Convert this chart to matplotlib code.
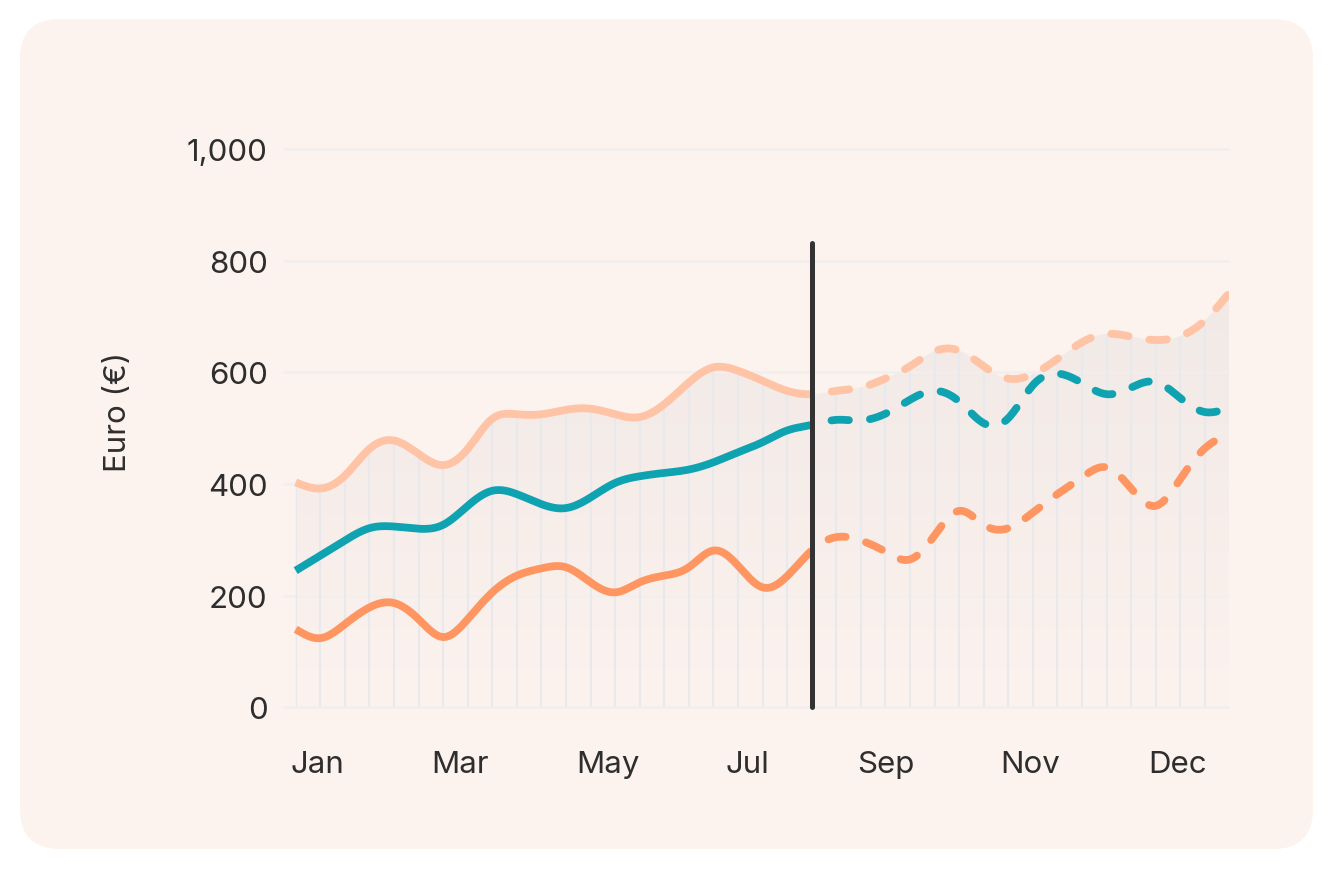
import numpy as np
import matplotlib
matplotlib.use("Agg")
import matplotlib.pyplot as plt
from matplotlib.patches import FancyBboxPatch, Polygon
from matplotlib.colors import LinearSegmentedColormap

plt.rcParams['font.family'] = ['Inter', 'DejaVu Sans']
plt.rcParams['lines.scale_dashes'] = False

# weekly points, actuals up to week 21, forecast after
weeks = list(range(39))
split_week = 21

high = [403, 392, 415, 463, 478, 454, 434, 463, 517, 525,
        525, 533, 535, 525, 520, 543, 582, 609, 603, 585,
        567, 561, 567, 573, 589, 611, 638, 639, 611, 589,
        597, 624, 654, 669, 664, 658, 665, 693, 743]
mid = [245, 272, 299, 321, 324, 320, 327, 361, 388, 382,
       364, 357, 376, 402, 414, 420, 426, 439, 457, 475,
       496, 506, 515, 514, 526, 551, 567, 548, 509, 518,
       577, 598, 581, 561, 573, 583, 554, 529, 537]
low = [140, 124, 149, 179, 187, 158, 126, 158, 206, 236,
       249, 251, 224, 206, 224, 236, 251, 281, 254, 215,
       235, 281, 305, 299, 279, 265, 308, 352, 327, 321,
       349, 382, 412, 430, 392, 361, 409, 464, 490]

month_labels = ["Jan", "Mar", "May", "Jul", "Sep", "Nov", "Dec"]
month_pos = [0.9, 6.7, 12.7, 18.4, 24.0, 29.9, 35.9]
y_ticks = [0, 200, 400, 600, 800, 1000]

card = '#FCF2EE'
text_col = '#2E2E2E'
colors = {'high': '#FFC3A6', 'mid': '#0FA3B1', 'low': '#FF9661'}


def smooth(x, y, n=24):
    # natural cubic spline through the points
    x = np.asarray(x, float)
    y = np.asarray(y, float)
    k = len(x)
    h = np.diff(x)
    A = np.zeros((k, k))
    r = np.zeros(k)
    A[0, 0] = A[-1, -1] = 1
    for i in range(1, k - 1):
        A[i, i-1] = h[i-1]
        A[i, i] = 2 * (h[i-1] + h[i])
        A[i, i+1] = h[i]
        r[i] = 6 * ((y[i+1] - y[i]) / h[i] - (y[i] - y[i-1]) / h[i-1])
    M = np.linalg.solve(A, r)
    xs, ys = [], []
    t = np.linspace(0, 1, n, endpoint=False)
    for i in range(k - 1):
        xx = x[i] + t * h[i]
        a = x[i+1] - xx
        b = xx - x[i]
        yy = (M[i] * a**3 + M[i+1] * b**3) / (6 * h[i]) \
            + (y[i] / h[i] - M[i] * h[i] / 6) * a \
            + (y[i+1] / h[i] - M[i+1] * h[i] / 6) * b
        xs.append(xx)
        ys.append(yy)
    xs.append([x[-1]])
    ys.append([y[-1]])
    return np.concatenate(xs), np.concatenate(ys)


fig = plt.figure(figsize=(13.34, 8.7), dpi=100)
fig.patch.set_facecolor('white')

# rounded card behind everything (pixel coordinates)
bg = fig.add_axes([0, 0, 1, 1], zorder=-1)
bg.set_xlim(0, 1334)
bg.set_ylim(870, 0)
bg.axis('off')
bg.add_patch(FancyBboxPatch((20, 20), 1293, 830,
                            boxstyle="round,pad=0,rounding_size=40",
                            facecolor=card, edgecolor='none'))

ax = fig.add_axes([292/1334, (870-708.4)/870, 937.4/1334, (708.4-147.3)/870])
ax.set_facecolor('none')

# gradient area under the upper line, with vertical week lines clipped to it
xh, yh = smooth(weeks, high)
verts = np.column_stack([np.r_[xh, xh[-1], xh[0]], np.r_[yh, 0, 0]])
clip = Polygon(verts, closed=True, transform=ax.transData,
               facecolor='none', edgecolor='none')
ax.add_patch(clip)
grad = np.linspace(0, 1, 256).reshape(-1, 1)
cmap = LinearSegmentedColormap.from_list('fade', [card, '#F1E9E6'])
im = ax.imshow(grad, extent=[xh[0], xh[-1], 0, 760], origin='lower',
               aspect='auto', cmap=cmap, zorder=1)
im.set_clip_path(clip)

ax.hlines(y_ticks, -0.5, 38, color='#F1EFEE', lw=1.8, zorder=1.5, clip_on=False)

vl = ax.vlines(np.arange(len(weeks) - 1), 0, 1000, color='#E8E9ED', lw=1.5, zorder=2)
vl.set_clip_path(clip)

for key, vals in [('high', high), ('mid', mid), ('low', low)]:
    xs, ys = smooth(weeks, vals)
    past = xs <= split_week
    fut = xs >= split_week
    ax.plot(xs[past], ys[past], color=colors[key], lw=5.6,
            solid_capstyle='butt', zorder=4)
    ax.plot(xs[fut], ys[fut], color=colors[key], lw=5.6,
            linestyle=(13.2, (12.6, 15.2)), dash_capstyle='round', zorder=4)

# today marker
ax.plot([split_week, split_week], [0, 832], color='#333333', lw=3.6,
        solid_capstyle='round', zorder=5, clip_on=False)

ax.set_xlim(-0.15, 38)
ax.set_ylim(0, 1005)
for s in ax.spines.values():
    s.set_visible(False)

ax.set_yticks(y_ticks)
ax.set_yticklabels([f"{v:,}" for v in y_ticks])
ax.set_xticks(month_pos)
ax.set_xticklabels(month_labels)
ax.tick_params(axis='y', length=0, pad=17.5, labelsize=22.5, labelcolor=text_col)
ax.tick_params(axis='x', length=0, pad=31, labelsize=22.5, labelcolor=text_col)

ax.text(-0.1856, 0.528, "Euro (€)", transform=ax.transAxes, rotation=90,
        ha='center', va='center', fontsize=22.5, color=text_col)

fig.savefig('out.png', dpi=100, facecolor='white')
